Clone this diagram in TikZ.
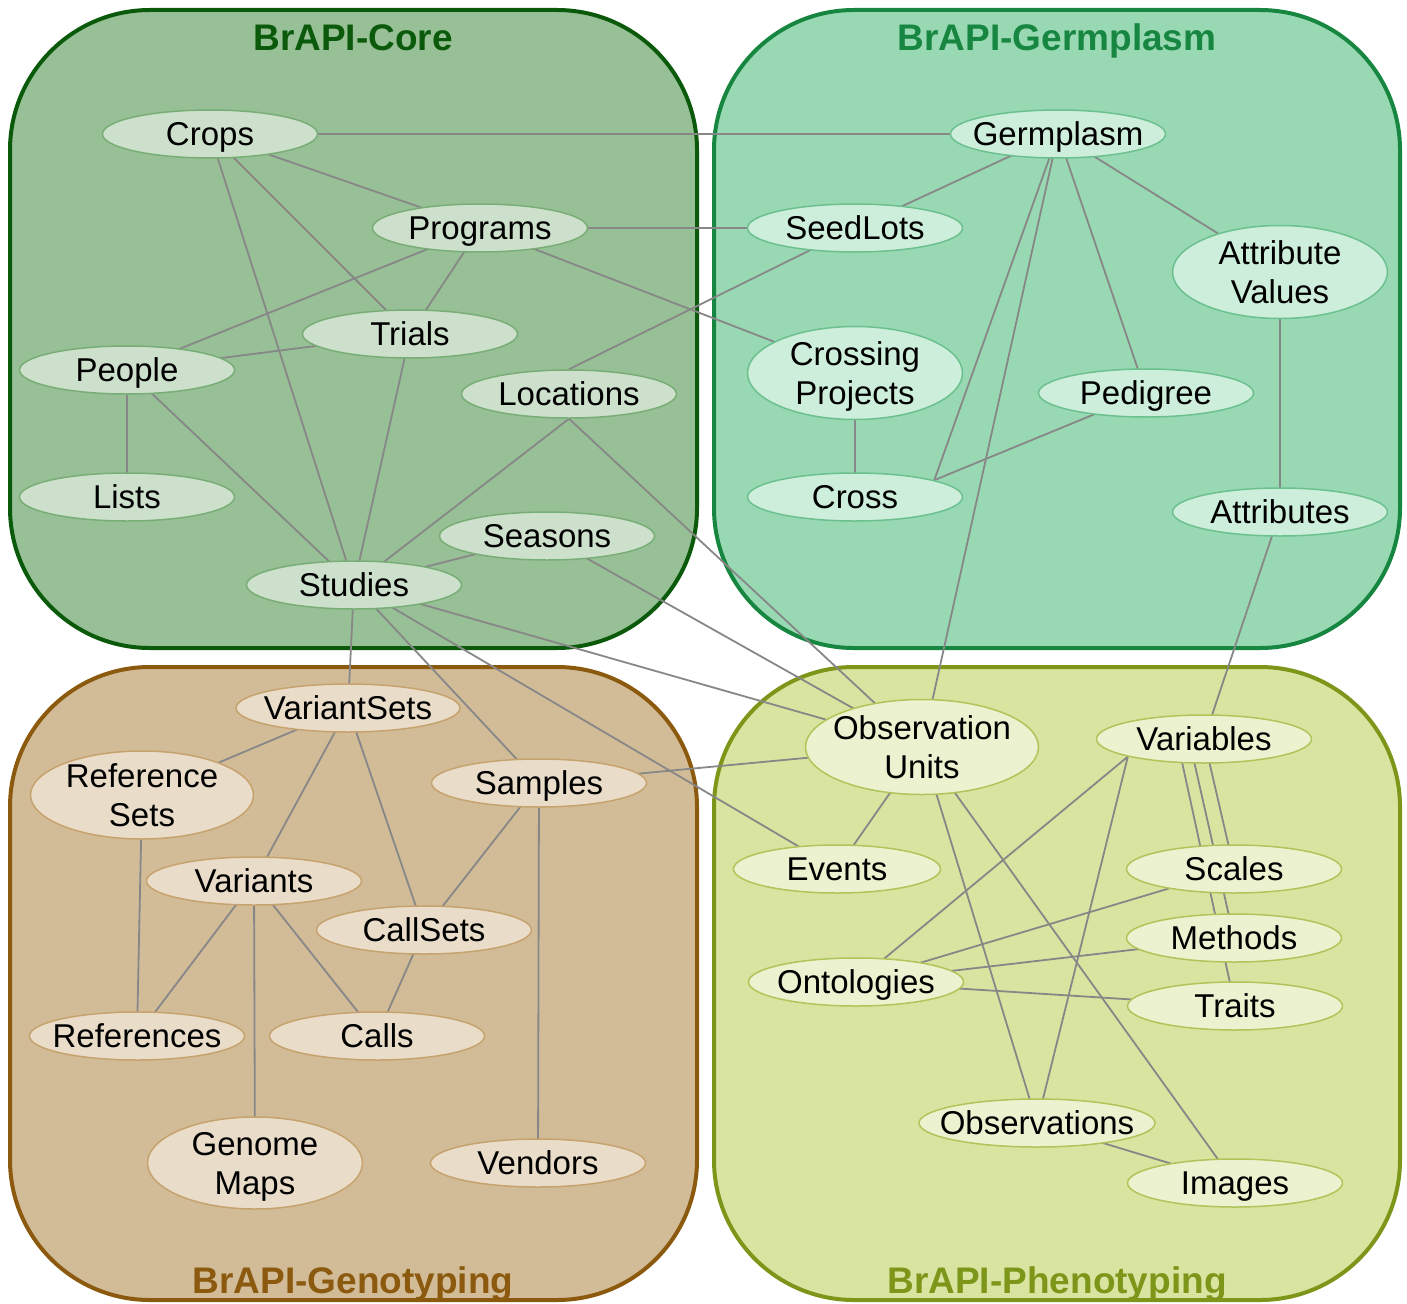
\documentclass[tikz,border=0pt]{standalone}
\usepackage{fontspec}
\setmainfont{Liberation Sans}
\usetikzlibrary{shapes.geometric,calc}
\pgfdeclarelayer{boxes}
\pgfdeclarelayer{edges}
\pgfsetlayers{boxes,edges,main}
\definecolor{coreF}{HTML}{98C096}
\definecolor{coreB}{HTML}{0B5A0B}
\definecolor{coreNF}{HTML}{CDE0CC}
\definecolor{coreNB}{HTML}{78AE76}
\definecolor{gerF}{HTML}{98D9B4}
\definecolor{gerB}{HTML}{178640}
\definecolor{gerNF}{HTML}{CDEEDB}
\definecolor{gerNB}{HTML}{6CC08E}
\definecolor{genF}{HTML}{D2BC98}
\definecolor{genB}{HTML}{8C5A0F}
\definecolor{genNF}{HTML}{E9DDC9}
\definecolor{genNB}{HTML}{C6A26E}
\definecolor{phF}{HTML}{D9E4A0}
\definecolor{phB}{HTML}{7D9619}
\definecolor{phNF}{HTML}{ECF2CF}
\definecolor{phNB}{HTML}{AEC55A}
\definecolor{edgeC}{HTML}{878787}
\begin{document}
\begin{tikzpicture}[x=1pt,y=-1pt,
  nd/.style={ellipse, draw, line width=1.5pt, inner sep=-20pt, minimum width=215pt,
    minimum height=48pt, align=center, text height=23.6pt, text depth=0pt,
    font=\fontsize{33}{39}\selectfont},
  two/.style={minimum height=93pt, text width=190pt, text depth=39pt},
  corend/.style={nd, fill=coreNF, draw=coreNB},
  gernd/.style={nd, fill=gerNF, draw=gerNB},
  gennd/.style={nd, fill=genNF, draw=genNB},
  phnd/.style={nd, fill=phNF, draw=phNB},
  grp/.style={rounded corners=140pt, line width=4pt},
  ttl/.style={font=\fontsize{37}{40}\selectfont\bfseries, inner sep=0pt,
    text height=26.5pt, text depth=0pt},
  edge/.style={draw=edgeC, line width=1.8pt}]
\useasboundingbox (0,0) rectangle (1407,1303);

% group boxes
\begin{pgfonlayer}{boxes}
\draw[grp, fill=coreF, draw=coreB] (10,10) rectangle (697,648);
\draw[grp, fill=gerF, draw=gerB] (714,10) rectangle (1400,648);
\draw[grp, fill=genF, draw=genB] (10,667) rectangle (697,1300);
\draw[grp, fill=phF, draw=phB] (714,667) rectangle (1400,1300);
\end{pgfonlayer}

\node[ttl, text=coreB] (tCore) at (353,37) {BrAPI-Core};
\node[ttl, text=gerB] (tGer) at (1057,37) {BrAPI-Germplasm};
\node[ttl, text=genB] (tGen) at (353,1280) {BrAPI-Genotyping};
\node[ttl, text=phB] (tPh) at (1057,1280) {BrAPI-Phenotyping};

% Core
\node[corend] (Crops) at (210,134) {Crops};
\node[corend] (Programs) at (480,228) {Programs};
\node[corend] (Trials) at (410,334) {Trials};
\node[corend] (People) at (127,370) {People};
\node[corend] (Locations) at (569,394) {Locations};
\node[corend] (Lists) at (127,497) {Lists};
\node[corend] (Seasons) at (547,536) {Seasons};
\node[corend] (Studies) at (354,585) {Studies};

% Germplasm
\node[gernd] (Germplasm) at (1058,134) {Germplasm};
\node[gernd] (SeedLots) at (855,228) {SeedLots};
\node[gernd, two] (AttrValues) at (1280,272) {Attribute\\Values};
\node[gernd, two] (CrossProj) at (855,373) {Crossing\\Projects};
\node[gernd] (Pedigree) at (1146,393) {Pedigree};
\node[gernd] (Cross) at (855,497) {Cross};
\node[gernd] (Attributes) at (1280,512) {Attributes};

% Genotyping
\node[gennd, minimum width=224pt] (VariantSets) at (348,708) {VariantSets};
\node[gennd, two, minimum width=223pt, minimum height=88pt] (RefSets) at (142,795) {Reference\\Sets};
\node[gennd] (Samples) at (539,783) {Samples};
\node[gennd] (Variants) at (254,881) {Variants};
\node[gennd] (CallSets) at (424,930) {CallSets};
\node[gennd] (References) at (137,1036) {References};
\node[gennd] (Calls) at (377,1036) {Calls};
\node[gennd, two, minimum height=92pt] (GenomeMaps) at (255,1163) {Genome\\Maps};
\node[gennd] (Vendors) at (538,1163) {Vendors};

% Phenotyping
\node[phnd, two, minimum width=233pt, minimum height=95pt] (ObsUnits) at (922,747) {Observation\\Units};
\node[phnd] (Variables) at (1204,739) {Variables};
\node[phnd, minimum width=207pt] (Events) at (837,869) {Events};
\node[phnd] (Scales) at (1234,869) {Scales};
\node[phnd] (Methods) at (1234,938) {Methods};
\node[phnd] (Ontologies) at (856,982) {Ontologies};
\node[phnd] (Traits) at (1235,1006) {Traits};
\node[phnd, minimum width=236pt] (Observations) at (1037,1123) {Observations};
\node[phnd] (Images) at (1235,1183) {Images};

% connectors (behind the nodes)
\begin{pgfonlayer}{edges}
\draw[edge] (Crops.center) -- (Germplasm.center);
\draw[edge] (Crops.center) -- (Programs.center);
\draw[edge] (Crops.center) -- (Trials.center);
\draw[edge] (Crops.center) -- (Studies.center);
\draw[edge] (Programs.center) -- (SeedLots.center);
\draw[edge] (Programs.center) -- (People.center);
\draw[edge] (Programs.center) -- (Trials.center);
\draw[edge] (Programs.center) -- (CrossProj.center);
\draw[edge] (Trials.center) -- (People.center);
\draw[edge] (Trials.center) -- (Studies.center);
\draw[edge] (People.center) -- (Lists.center);
\draw[edge] (People.center) -- (Studies.center);
\draw[edge] (Locations.north) -- (SeedLots.center);
\draw[edge] (Locations.south) -- (Studies.center);
\draw[edge] (Locations.south) -- (ObsUnits.center);
\draw[edge] (Seasons.center) -- (Studies.center);
\draw[edge] (Seasons.center) -- (ObsUnits.center);
\draw[edge] (Studies.center) -- (ObsUnits.center);
\draw[edge] (Studies.center) -- (Events.center);
\draw[edge] (Studies.center) -- (Samples.center);
\draw[edge] (Studies.center) -- (VariantSets.center);
% Germplasm
\draw[edge] (Germplasm.center) -- (SeedLots.center);
\draw[edge] (Germplasm.center) -- (Cross.12);
\draw[edge] (Germplasm.center) -- (ObsUnits.center);
\draw[edge] (Germplasm.center) -- (Pedigree.center);
\draw[edge] (Germplasm.center) -- (AttrValues.center);
\draw[edge] (CrossProj.center) -- (Cross.center);
\draw[edge] (Pedigree.center) -- (Cross.12);
\draw[edge] (AttrValues.center) -- (Attributes.center);
\draw[edge] (Attributes.center) -- (Variables.center);
% Genotyping
\draw[edge] (VariantSets.center) -- (RefSets.center);
\draw[edge] (VariantSets.center) -- (Variants.center);
\draw[edge] (VariantSets.center) -- (CallSets.center);
\draw[edge] (RefSets.center) -- (References.center);
\draw[edge] (Samples.center) -- (CallSets.center);
\draw[edge] (Samples.center) -- (Vendors.center);
\draw[edge] (Samples.center) -- (ObsUnits.center);
\draw[edge] (Variants.center) -- (References.center);
\draw[edge] (Variants.center) -- (GenomeMaps.center);
\draw[edge] (Variants.center) -- (Calls.center);
\draw[edge] (CallSets.center) -- (Calls.center);
% Phenotyping
\draw[edge] (ObsUnits.center) -- (Events.center);
\draw[edge] (ObsUnits.center) -- (Observations.center);
\draw[edge] (ObsUnits.center) -- (Images.center);
\draw[edge] (Variables.193) -- (Ontologies.center);
\draw[edge] (Variables.193) -- (Observations.center);
\draw[edge] ([xshift=-27pt]Variables.center) -- (Traits.center);
\draw[edge] ([xshift=-15pt]Variables.center) -- (Methods.center);
\draw[edge] (Variables.center) -- (Scales.center);
\draw[edge] (Ontologies.center) -- (Scales.center);
\draw[edge] (Ontologies.center) -- (Methods.center);
\draw[edge] (Ontologies.center) -- (Traits.center);
\draw[edge] (Observations.center) -- (Images.center);
\end{pgfonlayer}
\end{tikzpicture}
\end{document}
